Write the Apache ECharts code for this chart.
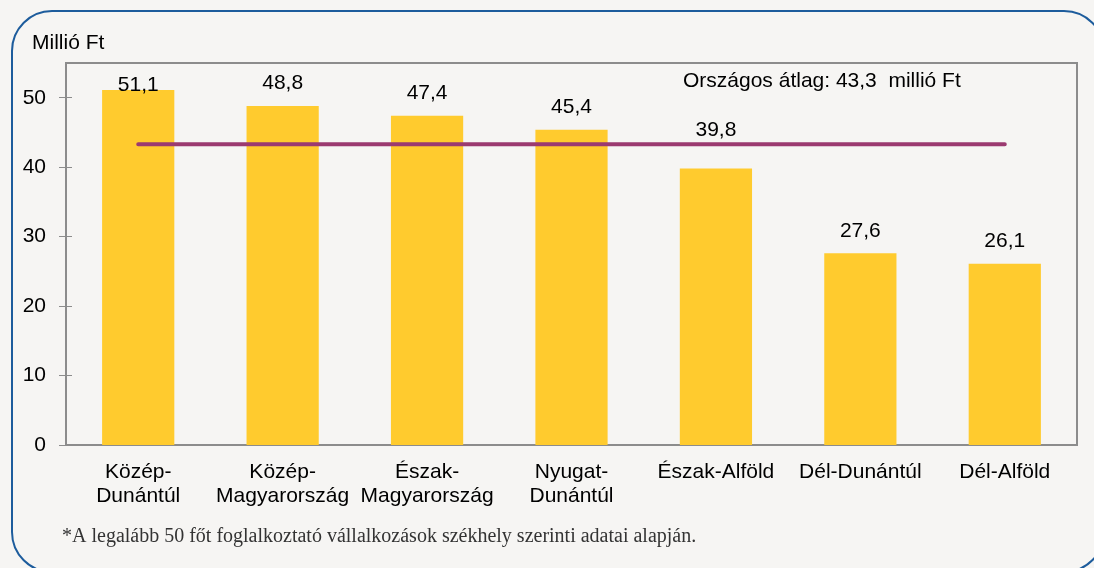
<!DOCTYPE html>
<html>
<head>
<meta charset="utf-8">
<script src="https://cdn.jsdelivr.net/npm/echarts@6/dist/echarts.min.js"></script>
<style>
html,body{margin:0;padding:0;background:#f6f5f3;}
#chart{width:1094px;height:568px;}
</style>
</head>
<body>
<div id="chart"></div>
<script>
const categories = ['Közép-\nDunántúl', 'Közép-\nMagyarország', 'Észak-\nMagyarország', 'Nyugat-\nDunántúl', 'Észak-Alföld', 'Dél-Dunántúl', 'Dél-Alföld'];
const values = [51.1, 48.8, 47.4, 45.4, 39.8, 27.6, 26.1];
const nationalAverage = 43.3;
const yTicks = [0, 10, 20, 30, 40, 50];
const unitLabel = 'Millió Ft';
const averageLabel = 'Országos átlag: 43,3  millió Ft';
const footnote = '*A legalább 50 főt foglalkoztató vállalkozások székhely szerinti adatai alapján.';
const labelDistances = [-6, 12, 12, 12, 28, 12, 12];

const fmt = v => String(v).replace('.', ',');
const FONT = 'Liberation Sans, Arial, sans-serif';

const chart = echarts.init(document.getElementById('chart'), null, {renderer: 'canvas'});
const option = {
  backgroundColor: '#f6f5f3',
  animation: false,
  grid: {left: 66, top: 63, right: 17, bottom: 123, show: true, borderColor: '#8c8c8c', borderWidth: 2, backgroundColor: 'transparent'},
  xAxis: {
    type: 'category',
    data: categories,
    axisLine: {show: true, lineStyle: {color: '#8c8c8c', width: 2}},
    axisTick: {show: false},
    axisLabel: {color: '#000', fontFamily: FONT, fontSize: 21, lineHeight: 24, margin: 15, interval: 0}
  },
  yAxis: [{
    type: 'value', min: 0, max: 55, interval: 10, position: 'left',
    splitLine: {show: false},
    axisLine: {show: true, lineStyle: {color: '#8c8c8c', width: 2}},
    axisTick: {show: false},
    axisLabel: {color: '#000', fontFamily: FONT, fontSize: 21, margin: 20, customValues: yTicks}
  }, {
    type: 'value', min: 0, max: 55, interval: 10, position: 'left',
    offset: -6,
    splitLine: {show: false},
    axisLine: {show: false},
    axisTick: {show: true, inside: false, length: 13, customValues: yTicks, lineStyle: {color: '#8c8c8c', width: 1}},
    axisLabel: {show: false}
  }],
  series: [{
    type: 'bar',
    barWidth: '50%',
    itemStyle: {color: '#FFCB2E'},
    data: values.map((v, i) => ({
      value: v,
      label: {show: true, position: 'top', distance: labelDistances[i], formatter: p => fmt(p.value), color: '#000', fontFamily: FONT, fontSize: 21}
    })),
    z: 2
  }, {
    type: 'line',
    data: categories.map(() => nationalAverage),
    symbol: 'none',
    lineStyle: {color: '#9B3A70', width: 4, cap: 'round'},
    z: 3
  }],
  graphic: [
    {type: 'rect', shape: {x: 12, y: 11, width: 1092, height: 561, r: 40}, style: {fill: 'none', stroke: '#1d5c9c', lineWidth: 2}, silent: true, z: 10},
    {type: 'text', left: 32, top: 33, style: {text: unitLabel, font: '21px ' + FONT, fill: '#000'}},
    {type: 'text', left: 683, top: 71, style: {text: averageLabel, font: '21px ' + FONT, fill: '#000'}},
    {type: 'text', left: 62, top: 527, style: {text: footnote, font: '20px Liberation Serif, Times New Roman, serif', fill: '#333'}}
  ]
};
chart.setOption(option);
</script>
</body>
</html>
